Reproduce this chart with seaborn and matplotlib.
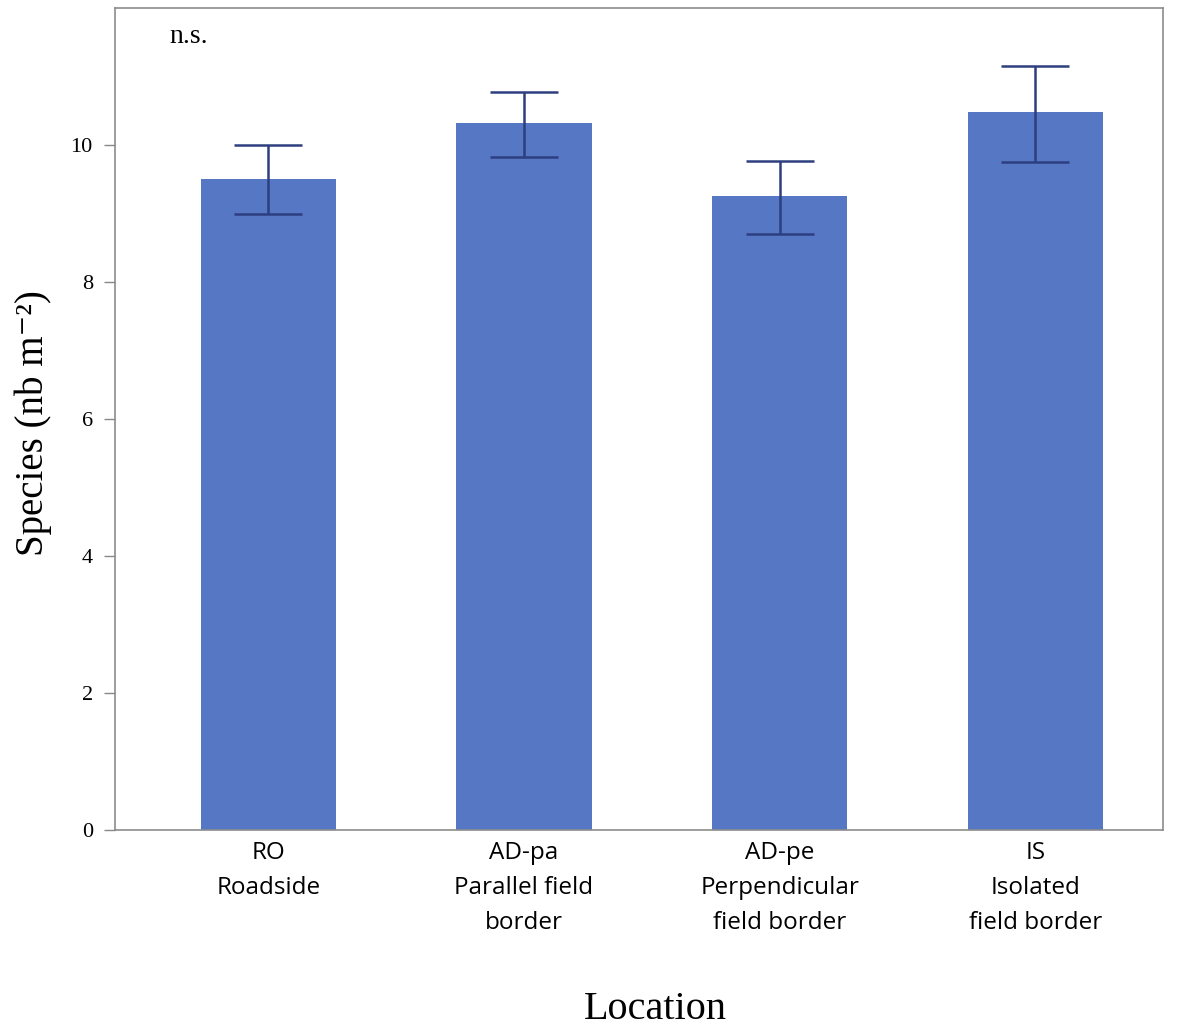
import matplotlib
matplotlib.use("Agg")
import matplotlib.pyplot as plt
import seaborn as sns
import pandas as pd

categories = ["RO\nRoadside", "AD-pa\nParallel field\nborder", "AD-pe\nPerpendicular\nfield border", "IS\nIsolated\nfield border"]
means = [9.5, 10.32, 9.25, 10.48]
err_low = [9.0, 9.82, 8.70, 9.75]
err_high = [10.0, 10.78, 9.77, 11.15]
yticks = [0, 2, 4, 6, 8, 10]

sns.set_theme(style="white")
plt.rcParams['font.family'] = ['Liberation Serif', 'DejaVu Serif']
plt.rcParams['text.color'] = 'black'
plt.rcParams['axes.labelcolor'] = 'black'
plt.rcParams['xtick.color'] = 'black'
plt.rcParams['ytick.color'] = 'black'

fig = plt.figure(figsize=(11.81, 10.29), dpi=100)
ax = fig.add_axes([0.0974, 0.1934, 0.8874, 0.7988])

df = pd.DataFrame({"Location": categories, "Species": means})
sns.barplot(data=df, x="Location", y="Species", color="#5577C4", saturation=1,
            width=0.53, errorbar=None, ax=ax, linewidth=0)

lower = [m - l for m, l in zip(means, err_low)]
upper = [h - m for m, h in zip(means, err_high)]
ax.errorbar(range(len(means)), means, yerr=[lower, upper], fmt="none",
            ecolor="#2E3F7F", elinewidth=1.8, capsize=24.5, capthick=1.8)

ax.set_xlim(-0.6, 3.5)
ax.set_ylim(0, 12)
ax.set_yticks(yticks)
ax.set_yticklabels([str(t) for t in yticks], fontsize=16, family=['Liberation Serif'])
ax.set_xticks(range(len(categories)))
ax.set_xticklabels(categories, fontsize=17.5, family=['Open Sans', 'DejaVu Sans'], linespacing=1.6)

ax.tick_params(axis='y', which='both', left=True, length=8, width=1, color='#888888', pad=8)
ax.tick_params(axis='x', which='both', bottom=False, pad=2)
for s in ax.spines.values():
    s.set_color('#8C8C8C')
    s.set_linewidth(1.2)

ax.set_xlabel("Location", fontsize=29, family=['Liberation Serif'])
ax.xaxis.set_label_coords(0.516, -0.196)
ax.set_ylabel("Species (nb m\u207b\u00b2)", fontsize=28, family=['Liberation Serif', 'DejaVu Serif'])
ax.yaxis.set_label_coords(-0.06, 0.495)

ax.text(0.052, 0.981, "n.s.", transform=ax.transAxes, fontsize=20,
        family=['Liberation Serif'], ha='left', va='top')

fig.savefig("out.png", dpi=100)
